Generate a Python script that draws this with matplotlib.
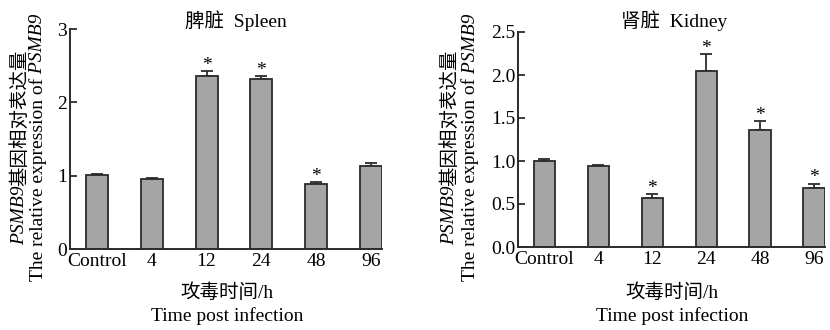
import matplotlib
matplotlib.use("Agg")
import matplotlib.pyplot as plt

plt.rcParams['font.family'] = ['Liberation Serif', 'Noto Sans CJK SC']

groups = ['Control', '4', '12', '24', '48', '96']

spleen = [1.01, 0.96, 2.36, 2.32, 0.88, 1.13]
spleen_err = [0.015, 0.005, 0.065, 0.035, 0.03, 0.04]
spleen_sig = [False, False, True, True, True, False]

kidney = [1.00, 0.94, 0.57, 2.05, 1.36, 0.69]
kidney_err = [0.02, 0.008, 0.045, 0.19, 0.10, 0.045]
kidney_sig = [False, False, True, True, True, True]

bar_color = '#a5a5a5'
edge = '#2b2b2b'
fs = 14

fig = plt.figure(figsize=(8.3, 3.3), dpi=100)
ax1 = fig.add_axes([70/830, 1-249/330, 312/830, 220/330])
ax2 = fig.add_axes([518/830, 1-247/330, 307/830, 215/330])


def draw_panel(ax, vals, errs, sig, ymax, yticks, ticklabels, title, title_x):
    x = list(range(len(groups)))
    ax.bar(x, vals, width=0.4, color=bar_color, edgecolor=edge, linewidth=1.3, zorder=2)
    ax.errorbar(x, vals, yerr=[[0]*len(errs), errs], fmt='none', ecolor=edge,
                elinewidth=1.3, capsize=4, capthick=1.3, zorder=1)
    for i in x:
        if sig[i]:
            ax.text(i, vals[i] + errs[i] - ymax*0.012, '*', ha='center', va='bottom', fontsize=fs)
    ax.set_xlim(-0.49, 5.2)
    ax.set_ylim(0, ymax)
    ax.set_xticks(x)
    ax.set_xticklabels(groups, fontsize=fs)
    ax.set_yticks(yticks)
    ax.set_yticklabels(ticklabels, fontsize=fs)
    ax.tick_params(axis='x', length=0, pad=3)
    ax.tick_params(axis='y', direction='in', length=5, width=1.3, pad=2, color=edge)
    for s in ['top', 'right']:
        ax.spines[s].set_visible(False)
    for s in ['left', 'bottom']:
        ax.spines[s].set_linewidth(1.4)
        ax.spines[s].set_color(edge)
    fig.text(title_x/830, 1-21/330, title, ha='center', va='center', fontsize=fs)


draw_panel(ax1, spleen, spleen_err, spleen_sig, 3, [0, 1, 2, 3], ['0', '1', '2', '3'],
           '脾脏  Spleen', 236)
draw_panel(ax2, kidney, kidney_err, kidney_sig, 2.5, [0, 0.5, 1.0, 1.5, 2.0, 2.5],
           ['0.0', '0.5', '1.0', '1.5', '2.0', '2.5'], '肾脏  Kidney', 674)

for xc in [227, 672]:
    fig.text(xc/830, 1-293/330, '攻毒时间/h', ha='center', va='center', fontsize=fs)
    fig.text(xc/830, 1-316/330, 'Time post infection', ha='center', va='center', fontsize=fs)

# rotated y labels built from pieces (italic gene name), stacked bottom to top
line1 = [('PSMB9', 'italic'), ('基因相对表达量', 'normal')]
line2 = [('The relative expression of', 'normal'), (' PSMB9', 'italic')]

ylabels = []
for x_px, parts in [(20, line1), (38, line2), (450, line1), (470, line2)]:
    pieces = [fig.text(x_px/830, 0, s, rotation=90, ha='center', va='bottom',
                       fontsize=fs, style=st) for s, st in parts]
    ylabels.append(pieces)

renderer = fig.canvas.get_renderer()
yc = 330 - 147
for pieces in ylabels:
    hs = [p.get_window_extent(renderer).height for p in pieces]
    y = yc - sum(hs)/2
    for p, h in zip(pieces, hs):
        p.set_y(y/330)
        y += h

fig.savefig('out.png', dpi=100)
